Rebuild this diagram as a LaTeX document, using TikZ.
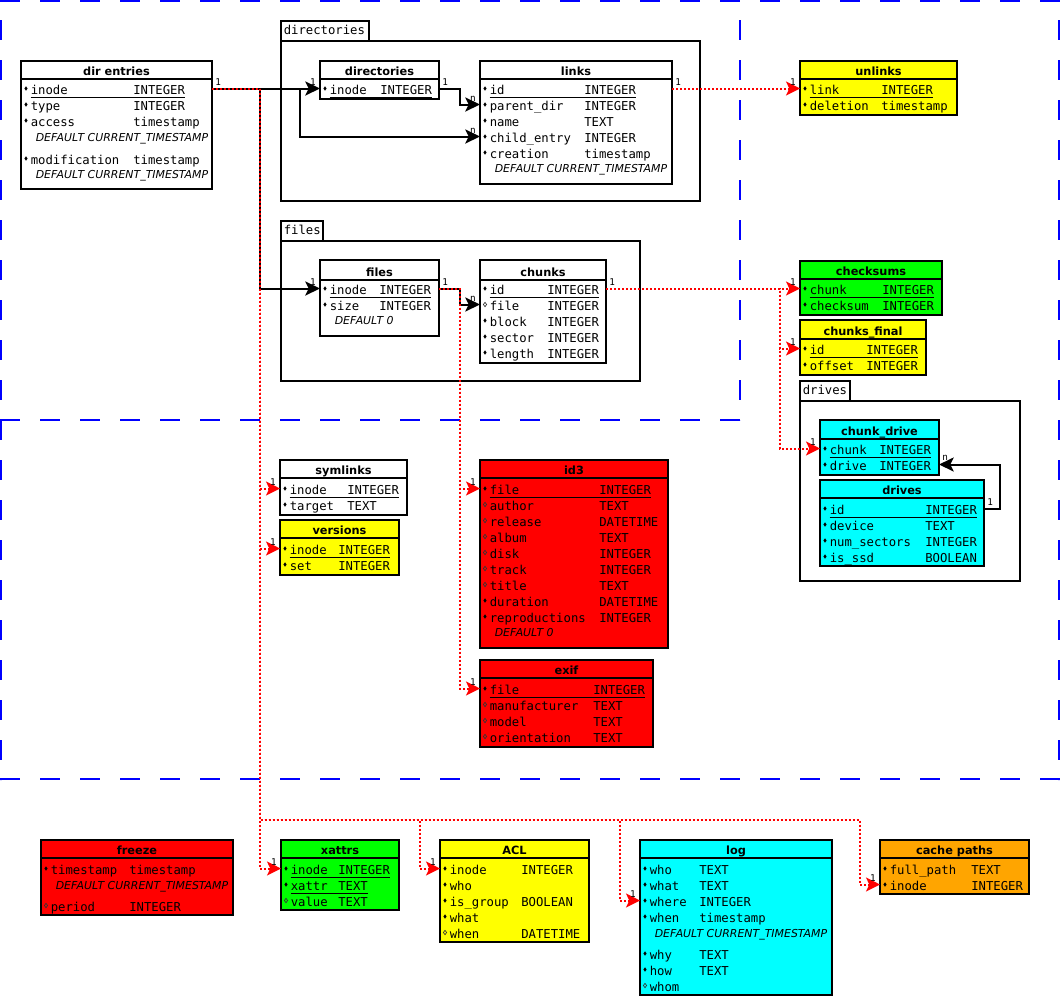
\documentclass[tikz,border=0pt]{standalone}
\usepackage{fontspec}
\setmainfont{DejaVu Sans}
\newfontfamily\monof{DejaVu Sans Mono}
\usetikzlibrary{arrows.meta,fit}
\definecolor{tyellow}{RGB}{255,255,0}
\definecolor{tgreen}{RGB}{0,255,0}
\definecolor{tcyan}{RGB}{0,255,255}
\definecolor{tred}{RGB}{255,0,0}
\definecolor{torange}{RGB}{255,165,0}
\definecolor{dblue}{RGB}{0,0,255}
\tikzset{
 tbox/.style={draw=black, line width=1.5pt, inner sep=0pt, outer sep=0pt},
 tline/.style={draw=black, line width=1.5pt},
 thead/.style={font=\bfseries\fontsize{8.5}{10}\selectfont, inner sep=0pt},
 ftxt/.style={font=\monof\fontsize{9.2}{11}\selectfont, inner sep=0pt},
 dtxt/.style={font=\itshape\fontsize{8.2}{10}\selectfont, inner sep=0pt},
 lbl/.style={font=\monof\fontsize{7}{8}\selectfont, inner sep=0pt},
 fkblack/.style={draw=black, line width=1.5pt, -{Stealth[length=11pt,width=10.5pt,inset=2.5pt]}},
 fkred/.style={draw=red, line width=1.5pt, dash pattern=on 1.5pt off 1.5pt, -{Stealth[length=10.5pt,width=10.5pt,inset=2.5pt,fill=red]}},
 grp/.style={draw=black, line width=1.5pt, fill=white},
 zone/.style={draw=dblue, line width=1.5pt, dash pattern=on 15pt off 15pt},
 uline/.style={draw=black, line width=0.75pt},
 slbl/.style={lbl, anchor=base west, xshift=2.3pt, yshift=2.3pt},
 elbl/.style={lbl, anchor=base east, xshift=-3pt, yshift=2.3pt},
}
\newcommand\tbl[8]{%
  \coordinate (#1-a) at (#2,#3);
  \coordinate (#1-b) at (#4,#5);
  \node[tbox, fill=#8, fit=(#1-a)(#1-b)] (#1) {};
  \draw[tline] (#2,#6) -- (#4,#6);
  \node[thead, anchor=base] (#1-h) at ({(#2+#4)/2},{#6-3.7}) {#7};
}
\newcommand\rowbase[6]{%
  \coordinate (#1) at (#2,{#3-1.5});
  \node[ftxt, anchor=base west] (#1-n) at ({#2+9.5},{#3+4.5}) {#4};
  \node[ftxt, anchor=base west] (#1-t) at (#5,{#3+4.5}) {#6};
}
\newcommand\rowF[6]{\rowbase{#1}{#2}{#3}{#4}{#5}{#6}%
  \fill ({#2+5},{#3-1.5}) +(0,2.2) -- +(1.6,0) -- +(0,-2.2) -- +(-1.6,0) -- cycle;}
\newcommand\rowH[6]{\rowbase{#1}{#2}{#3}{#4}{#5}{#6}%
  \draw[line width=0.5pt, black!80] ({#2+5},{#3-1.5}) +(0,2.2) -- +(1.6,0) -- +(0,-2.2) -- +(-1.6,0) -- cycle;}
\newcommand\rowP[6]{\rowF{#1}{#2}{#3}{#4}{#5}{#6}%
  \coordinate (#1-u) at ({#2+9.5},{#3+7});
  \draw[uline] (#1-u) -- (#1-t.east |- #1-u);}
\newcommand\dflt[4]{\node[dtxt, anchor=base west] (#1) at ({#2+14.5},{#3+4}) {#4};}
\begin{document}
\begin{tikzpicture}[x=0.75pt,y=-0.75pt]
\useasboundingbox (0,0) rectangle (1062,996);
% zones
\draw[zone] (0,1) -- (1060,1);
\draw[zone, dash phase=15pt] (1,0) -- (1,780);
\draw[zone, dash phase=15pt] (1059,0) -- (1059,780);
\draw[zone] (0,779) -- (1060,779);
\draw[zone, dash phase=15pt] (740,0) -- (740,420);
\draw[zone] (0,420) -- (740,420);
% groups
\draw[grp] (281,41) rectangle (700,201);
\draw[grp] (281,21) rectangle (369,41);
\node[ftxt, anchor=base west] (g-dirs) at (283.5,34.5) {directories};
\draw[grp] (281,241) rectangle (640,381);
\draw[grp] (281,221) rectangle (323,241);
\node[ftxt, anchor=base west] (g-files) at (283.5,234.5) {files};
\draw[grp] (800,401) rectangle (1020,581);
\draw[grp] (800,381) rectangle (850,401);
\node[ftxt, anchor=base west] (g-drives) at (802.5,394.5) {drives};
% tables
\tbl{dirent}{21}{61}{212}{189}{79}{dir entries}{white}
\rowP{dirent-inode}{21}{90}{inode}{133}{INTEGER}
\rowF{dirent-type}{21}{106}{type}{133}{INTEGER}
\rowF{dirent-access}{21}{122}{access}{133}{timestamp}
\dflt{dirent-d1}{21}{137}{DEFAULT CURRENT\_TIMESTAMP}
\rowF{dirent-mod}{21}{160}{modification}{133}{timestamp}
\dflt{dirent-d2}{21}{174}{DEFAULT CURRENT\_TIMESTAMP}

\tbl{dirs}{320}{61}{439}{99}{79}{directories}{white}
\rowP{dirs-inode}{320}{90}{inode}{380}{INTEGER}

\tbl{links}{480}{61}{672}{184}{79}{links}{white}
\rowP{links-id}{480}{90}{id}{584}{INTEGER}
\rowF{links-parent}{480}{106}{parent\_dir}{584}{INTEGER}
\rowF{links-name}{480}{122}{name}{584}{TEXT}
\rowF{links-child}{480}{138}{child\_entry}{584}{INTEGER}
\rowF{links-creation}{480}{154}{creation}{584}{timestamp}
\dflt{links-d}{480}{168}{DEFAULT CURRENT\_TIMESTAMP}

\tbl{unlinks}{800}{61}{957}{115}{79}{unlinks}{tyellow}
\rowP{unlinks-link}{800}{90}{link}{881}{INTEGER}
\rowF{unlinks-del}{800}{106}{deletion}{881}{timestamp}

\tbl{files}{320}{260}{439}{336}{280}{files}{white}
\rowP{files-inode}{320}{290}{inode}{379}{INTEGER}
\rowF{files-size}{320}{306}{size}{379}{INTEGER}
\dflt{files-d}{320}{320.5}{DEFAULT 0}

\tbl{chunks}{480}{260}{606}{363}{280}{chunks}{white}
\rowP{chunks-id}{480}{290}{id}{547}{INTEGER}
\rowH{chunks-file}{480}{306}{file}{547}{INTEGER}
\rowF{chunks-block}{480}{322}{block}{547}{INTEGER}
\rowF{chunks-sector}{480}{338}{sector}{547}{INTEGER}
\rowF{chunks-length}{480}{354}{length}{547}{INTEGER}

\tbl{checksums}{800}{261}{942}{315}{279}{checksums}{tgreen}
\rowP{cs-chunk}{800}{290}{chunk}{882}{INTEGER}
\rowF{cs-checksum}{800}{306}{checksum}{882}{INTEGER}

\tbl{cfinal}{800}{320}{926}{375}{339}{chunks\_final}{tyellow}
\rowP{cf-id}{800}{350}{id}{866}{INTEGER}
\rowF{cf-offset}{800}{366}{offset}{866}{INTEGER}

\tbl{cdrive}{820}{420}{939}{475}{439}{chunk\_drive}{tcyan}
\rowP{cd-chunk}{820}{450}{chunk}{879}{INTEGER}
\rowF{cd-drive}{820}{466}{drive}{879}{INTEGER}

\tbl{drives}{820}{480}{984}{566}{498}{drives}{tcyan}
\rowP{dr-id}{820}{510}{id}{925}{INTEGER}
\rowF{dr-device}{820}{526}{device}{925}{TEXT}
\rowF{dr-num}{820}{542}{num\_sectors}{925}{INTEGER}
\rowF{dr-ssd}{820}{558}{is\_ssd}{925}{BOOLEAN}

\tbl{symlinks}{280}{460}{407}{515}{478}{symlinks}{white}
\rowP{sl-inode}{280}{490}{inode}{347}{INTEGER}
\rowF{sl-target}{280}{506}{target}{347}{TEXT}

\tbl{versions}{280}{520}{399}{575}{538}{versions}{tyellow}
\rowP{vs-inode}{280}{550}{inode}{338}{INTEGER}
\rowF{vs-set}{280}{566}{set}{338}{INTEGER}

\tbl{id3}{480}{460}{668}{648}{478}{id3}{tred}
\rowP{id3-file}{480}{490}{file}{599}{INTEGER}
\rowH{id3-author}{480}{506}{author}{599}{TEXT}
\rowH{id3-release}{480}{522}{release}{599}{DATETIME}
\rowH{id3-album}{480}{538}{album}{599}{TEXT}
\rowH{id3-disk}{480}{554}{disk}{599}{INTEGER}
\rowH{id3-track}{480}{570}{track}{599}{INTEGER}
\rowH{id3-title}{480}{586}{title}{599}{TEXT}
\rowF{id3-duration}{480}{602}{duration}{599}{DATETIME}
\rowF{id3-repro}{480}{618}{reproductions}{599}{INTEGER}
\dflt{id3-d}{480}{632.5}{DEFAULT 0}

\tbl{exif}{480}{660}{653}{747}{678}{exif}{tred}
\rowP{exif-file}{480}{690}{file}{593}{INTEGER}
\rowH{exif-manu}{480}{706}{manufacturer}{593}{TEXT}
\rowH{exif-model}{480}{722}{model}{593}{TEXT}
\rowH{exif-orient}{480}{738}{orientation}{593}{TEXT}

\tbl{freeze}{41}{840}{233}{915}{858}{freeze}{tred}
\rowF{fr-ts}{41}{870}{timestamp}{129}{timestamp}
\dflt{fr-d}{41}{885}{DEFAULT CURRENT\_TIMESTAMP}
\rowH{fr-period}{41}{907}{period}{129}{INTEGER}

\tbl{xattrs}{281}{840}{399}{910}{858}{xattrs}{tgreen}
\rowP{xa-inode}{281}{870}{inode}{338}{INTEGER}
\rowP{xa-xattr}{281}{886}{xattr}{338}{TEXT}
\rowH{xa-value}{281}{902}{value}{338}{TEXT}

\tbl{acl}{440}{840}{589}{942}{858}{ACL}{tyellow}
\rowF{acl-inode}{440}{870}{inode}{521}{INTEGER}
\rowF{acl-who}{440}{886}{who}{521}{}
\rowF{acl-group}{440}{902}{is\_group}{521}{BOOLEAN}
\rowF{acl-what}{440}{918}{what}{521}{}
\rowH{acl-when}{440}{934}{when}{521}{DATETIME}

\tbl{log}{640}{840}{832}{995}{858}{log}{tcyan}
\rowF{log-who}{640}{870}{who}{699}{TEXT}
\rowF{log-what}{640}{886}{what}{699}{TEXT}
\rowF{log-where}{640}{902}{where}{699}{INTEGER}
\rowF{log-when}{640}{918}{when}{699}{timestamp}
\dflt{log-d}{640}{933}{DEFAULT CURRENT\_TIMESTAMP}
\rowF{log-why}{640}{955}{why}{699}{TEXT}
\rowF{log-how}{640}{971}{how}{699}{TEXT}
\rowH{log-whom}{640}{987}{whom}{699}{}

\tbl{cache}{880}{840}{1029}{894}{858}{cache paths}{torange}
\rowF{cp-full}{880}{870}{full\_path}{971}{TEXT}
\rowF{cp-inode}{880}{886}{inode}{971}{INTEGER}

% junction coordinates
\coordinate (jmain) at (260,0);
\coordinate (jdir) at (300,0);
\coordinate (jfile) at (460,0);
\coordinate (jchunk) at (780,0);
\coordinate (jdrv) at (1000,0);
\coordinate (jbot) at (0,820);
\coordinate (jacl) at (420,0);
\coordinate (jlog) at (620,0);
\coordinate (jcache) at (860,0);

% black connectors
\draw[fkblack] (dirent.east |- dirent-inode) -- (dirs.west |- dirs-inode);
\draw[fkblack] (dirent.east |- dirent-inode) -- (jdir |- dirent-inode) -- (jdir |- links-child) -- (links.west |- links-child);
\draw[fkblack] (dirent.east |- dirent-inode) -- (jmain |- dirent-inode) -- (jmain |- files-inode) -- (files.west |- files-inode);
\draw[fkblack] (dirs.east |- dirs-inode) -- (jfile |- dirs-inode) -- (jfile |- links-parent) -- (links.west |- links-parent);
\draw[fkblack] (files.east |- files-inode) -- (jfile |- files-inode) -- (jfile |- chunks-file) -- (chunks.west |- chunks-file);
\draw[fkblack] (drives.east |- dr-id) -- (jdrv |- dr-id) -- (jdrv |- cd-drive) -- (cdrive.east |- cd-drive);

% red connectors
\draw[fkred] (links.east |- links-id) -- (unlinks.west |- unlinks-link);
\draw[fkred] (chunks.east |- chunks-id) -- (checksums.west |- cs-chunk);
\draw[fkred] (chunks.east |- chunks-id) -- (jchunk |- chunks-id) -- (jchunk |- cf-id) -- (cfinal.west |- cf-id);
\draw[fkred] (chunks.east |- chunks-id) -- (jchunk |- chunks-id) -- (jchunk |- cd-chunk) -- (cdrive.west |- cd-chunk);
\draw[fkred] (files.east |- files-inode) -- (jfile |- files-inode) -- (jfile |- id3-file) -- (id3.west |- id3-file);
\draw[fkred] (files.east |- files-inode) -- (jfile |- files-inode) -- (jfile |- exif-file) -- (exif.west |- exif-file);
\draw[fkred] (dirent.east |- dirent-inode) -- (jmain |- dirent-inode) -- (jmain |- sl-inode) -- (symlinks.west |- sl-inode);
\draw[fkred] (dirent.east |- dirent-inode) -- (jmain |- dirent-inode) -- (jmain |- vs-inode) -- (versions.west |- vs-inode);
\draw[fkred] (dirent.east |- dirent-inode) -- (jmain |- dirent-inode) -- (jmain |- xa-inode) -- (xattrs.west |- xa-inode);
\draw[fkred] (dirent.east |- dirent-inode) -- (jmain |- dirent-inode) -- (jmain |- jbot) -- (jacl |- jbot) -- (jacl |- acl-inode) -- (acl.west |- acl-inode);
\draw[fkred] (dirent.east |- dirent-inode) -- (jmain |- dirent-inode) -- (jmain |- jbot) -- (jlog |- jbot) -- (jlog |- log-where) -- (log.west |- log-where);
\draw[fkred] (dirent.east |- dirent-inode) -- (jmain |- dirent-inode) -- (jmain |- jbot) -- (jcache |- jbot) -- (jcache |- cp-inode) -- (cache.west |- cp-inode);

% cardinality labels
\node[slbl] (l1) at (dirent.east |- dirent-inode) {1};
\node[slbl] (l2) at (dirs.east |- dirs-inode) {1};
\node[slbl] (l3) at (links.east |- links-id) {1};
\node[slbl] (l4) at (files.east |- files-inode) {1};
\node[slbl] (l5) at (chunks.east |- chunks-id) {1};
\node[slbl] (l6) at (drives.east |- dr-id) {1};
\node[elbl] (e1) at (dirs.west |- dirs-inode) {1};
\node[elbl] (e2) at (links.west |- links-parent) {n};
\node[elbl] (e3) at (links.west |- links-child) {n};
\node[elbl] (e4) at (files.west |- files-inode) {1};
\node[elbl] (e5) at (chunks.west |- chunks-file) {n};
\node[elbl] (e6) at (unlinks.west |- unlinks-link) {1};
\node[elbl] (e7) at (checksums.west |- cs-chunk) {1};
\node[elbl] (e8) at (cfinal.west |- cf-id) {1};
\node[elbl] (e9) at (cdrive.west |- cd-chunk) {1};
\node[lbl, anchor=base west, xshift=2.3pt, yshift=3pt] (e10) at (cdrive.east |- cd-drive) {n};
\node[elbl] (e11) at (symlinks.west |- sl-inode) {1};
\node[elbl] (e12) at (versions.west |- vs-inode) {1};
\node[elbl] (e13) at (id3.west |- id3-file) {1};
\node[elbl] (e14) at (exif.west |- exif-file) {1};
\node[elbl] (e15) at (xattrs.west |- xa-inode) {1};
\node[elbl] (e16) at (acl.west |- acl-inode) {1};
\node[elbl] (e17) at (log.west |- log-where) {1};
\node[elbl] (e18) at (cache.west |- cp-inode) {1};
\end{tikzpicture}
\end{document}
